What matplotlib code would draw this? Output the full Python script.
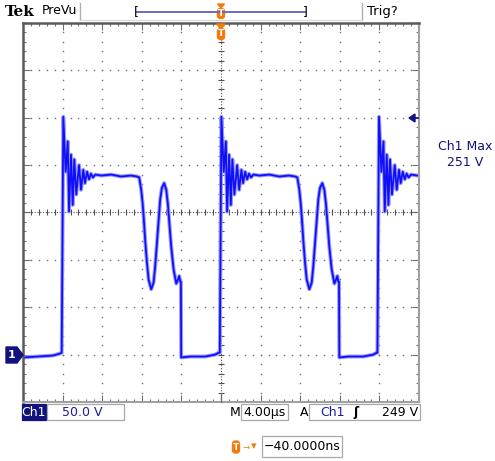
# 示波器截图复刻: Tek PreVu, Ch1 50V/div, 4us/div
import matplotlib
matplotlib.use('Agg')
import matplotlib.pyplot as plt
import numpy as np
from matplotlib.patches import Rectangle, Polygon, FancyBboxPatch
from matplotlib.ticker import MultipleLocator

# 一个周期的波形: 相对上升沿的时间(us) 和 电压(V)
cycle_t = [0.00, 0.16, 0.40, 0.61, 0.74, 0.94, 1.11, 1.27, 1.47, 1.75, 1.95,
           2.18, 2.35, 2.56, 2.76, 2.95, 3.15, 3.40, 4.00, 5.00, 6.00, 7.00,
           7.60, 7.83, 8.03, 8.17, 8.30, 8.43, 8.61, 8.78, 9.04, 9.28, 9.44,
           9.62, 9.79, 9.95, 10.12, 10.35, 10.56, 10.73, 10.90, 11.06, 11.30,
           11.57, 11.74, 11.87, 11.97, 12.04, 12.07, 13.00, 14.50, 15.50, 15.85]
cycle_v = [2, 251, 193, 225, 151, 211, 158, 206, 169, 200, 174,
           195, 181, 193, 185, 191, 187, 190, 189, 190, 188, 189,
           188, 187, 174, 160, 142, 121, 97, 79, 69, 76, 93,
           118, 142, 164, 176, 181, 174, 158, 135, 114, 90,
           75, 79, 83, 77, 77, -3, -2, -2, 0, 2]
edges = [-16.09, -0.12, 15.80]          # 上升沿时刻 (us)
lead_t = [-20.0, -18.5, -17.0, -16.3]   # 第一个上升沿之前的低电平
lead_v = [-3, -2, -1, 1]

t_all = list(lead_t)
v_all = list(lead_v)
for e in edges:
    t_all += [e + c for c in cycle_t]
    v_all += cycle_v
t_all = np.array(t_all)
v_all = np.array(v_all)

W, H = 495, 461
def fx(x):
    return x / W
def fy(y):
    return 1 - y / H

navy = '#12127e'
orange = '#f57a0c'

fig = plt.figure(figsize=(4.95, 4.61), dpi=100)
fig.patch.set_facecolor('white')
ax = fig.add_axes([fx(23), fy(402), 396 / W, 379 / H])
ax.set_xlim(-20, 20)
ax.set_ylim(-50, 350)

# 网格: 每格的点线
sub_x = np.arange(-20, 20.01, 0.8)
sub_y = np.arange(-50, 350.01, 10)
for yv in [0, 50, 100, 200, 250, 300]:
    ax.plot(sub_x, np.full(sub_x.size, yv), ls='none', marker='s', ms=1.0,
            mew=0, color='#707070')
for xv in [-16, -12, -8, -4, 4, 8, 12, 16]:
    ax.plot(np.full(sub_y.size, xv), sub_y, ls='none', marker='s', ms=1.0,
            mew=0, color='#707070')
# 中心十字线
ax.axhline(150, color='#505050', lw=0.8, ls=(0, (1, 1.5)))
ax.axvline(0, color='#505050', lw=0.8, ls=(0, (1, 1.5)))
ax.plot(sub_x, np.full(sub_x.size, 150), ls='none', marker='|', ms=4,
        mew=0.8, color='#505050')
ax.plot(np.zeros(sub_y.size), sub_y, ls='none', marker='_', ms=4,
        mew=0.8, color='#505050')

# 边框刻度
ax.xaxis.set_major_locator(MultipleLocator(4))
ax.xaxis.set_minor_locator(MultipleLocator(0.8))
ax.yaxis.set_major_locator(MultipleLocator(50))
ax.yaxis.set_minor_locator(MultipleLocator(10))
ax.tick_params(which='both', direction='in', top=True, right=True,
               labelbottom=False, labelleft=False, color='#707070')
ax.tick_params(which='major', length=5, width=0.8)
ax.tick_params(which='minor', length=2.5, width=0.8)
for s in ['top', 'left']:
    ax.spines[s].set_color('#5a5a5a')
    ax.spines[s].set_linewidth(1.8)
for s in ['bottom', 'right']:
    ax.spines[s].set_color('#a0a0a0')
    ax.spines[s].set_linewidth(1.5)

# 波形
ax.plot(t_all, v_all, color='#9a9aff', lw=2.8, solid_joinstyle='round',
        clip_on=True)
ax.plot(t_all, v_all, color='#1010f8', lw=1.3, solid_joinstyle='round',
        clip_on=True)

# 右侧最大值箭头
fig.add_artist(Polygon([(fx(409), fy(118)), (fx(415), fy(114)),
                        (fx(415), fy(122))], closed=True, color=navy,
                       transform=fig.transFigure))
fig.add_artist(plt.Line2D([fx(414), fx(418)], [fy(118), fy(118)], color=navy,
                          lw=1.2, transform=fig.transFigure))

# 地线标记 "1"
fig.add_artist(Polygon([(fx(6), fy(347)), (fx(17), fy(347)), (fx(23), fy(355)),
                        (fx(17), fy(363)), (fx(6), fy(363))], closed=True,
                       color=navy, transform=fig.transFigure))
fig.text(fx(12), fy(355.5), '1', color='white', fontsize=8, fontweight='bold',
         ha='center', va='center')

# 顶部状态栏
fig.text(fx(5), fy(12), 'Tek', fontsize=11, fontweight='bold',
         family='DejaVu Serif', ha='left', va='center')
fig.text(fx(42), fy(11), 'PreVu', fontsize=9, ha='left', va='center')
fig.add_artist(plt.Line2D([fx(80), fx(80)], [fy(3), fy(20)], color='#b0b0b0',
                          lw=1, transform=fig.transFigure))
fig.add_artist(plt.Line2D([fx(362), fx(362)], [fy(3), fy(20)], color='#b0b0b0',
                          lw=1, transform=fig.transFigure))
fig.add_artist(plt.Line2D([fx(80), fx(362)], [fy(20), fy(20)], color='#d8d8d8',
                          lw=0.8, transform=fig.transFigure))
fig.add_artist(plt.Line2D([fx(137), fx(305)], [fy(12), fy(12)], color='#6a6ac0',
                          lw=1.4, transform=fig.transFigure))
fig.text(fx(136), fy(12), '[', fontsize=9, ha='center', va='center')
fig.text(fx(305.5), fy(12), ']', fontsize=9, ha='center', va='center')
fig.text(fx(367), fy(12), 'Trig?', fontsize=9.5, ha='left', va='center')


def t_marker(xc, yc, h=10):
    fig.add_artist(FancyBboxPatch((fx(xc - 3.5), fy(yc + h / 2)),
                                  7 / W, h / H,
                                  boxstyle='round,pad=0,rounding_size=0.006',
                                  color=orange, transform=fig.transFigure))
    fig.text(fx(xc), fy(yc), 'T', color='white', fontsize=6.5,
             fontweight='bold', ha='center', va='center')


# 顶部触发位置 T
fig.add_artist(Polygon([(fx(217.5), fy(4)), (fx(224.5), fy(4)), (fx(221), fy(8))],
                       closed=True, color=orange, transform=fig.transFigure))
t_marker(221, 13.5, 10)
fig.add_artist(Polygon([(fx(216.5), fy(24)), (fx(225.5), fy(24)), (fx(221), fy(29))],
                       closed=True, color=orange, transform=fig.transFigure))
t_marker(221, 34, 11)

# 底部中心触发位置刻度
fig.add_artist(plt.Line2D([fx(221), fx(221)], [fy(393), fy(402)], color='#707070',
                          lw=0.9, transform=fig.transFigure))

# 右侧读数
fig.text(fx(465), fy(147), 'Ch1 Max', color=navy, fontsize=9, ha='center',
         va='center')
fig.text(fx(465), fy(163), '251 V', color=navy, fontsize=9, ha='center',
         va='center')


def box(x0, y0, x1, y1, fc='none', ec='#a8a8a8'):
    fig.add_artist(Rectangle((fx(x0), fy(y1)), (x1 - x0) / W, (y1 - y0) / H,
                             facecolor=fc, edgecolor=ec, lw=0.9,
                             transform=fig.transFigure))


# 底部状态行
box(22, 404, 46, 420, fc=navy, ec=navy)
fig.text(fx(34), fy(412), 'Ch1', color='white', fontsize=9, ha='center',
         va='center')
box(47, 404, 124, 420)
fig.text(fx(62), fy(412), '50.0 V', color='#1c1c9c', fontsize=9, ha='left',
         va='center')
fig.text(fx(235), fy(412), 'M', fontsize=9, ha='center', va='center')
box(241, 404, 288, 420)
fig.text(fx(264.5), fy(412), '4.00µs', fontsize=9, ha='center', va='center')
fig.text(fx(304), fy(412), 'A', fontsize=9, ha='center', va='center')
box(309, 404, 420, 420)
fig.text(fx(320), fy(412), 'Ch1', color='#1c1c9c', fontsize=9, ha='left',
         va='center')
fig.text(fx(356), fy(412), 'ʃ', fontsize=9, fontweight='bold', ha='center',
         va='center')
fig.text(fx(418), fy(412), '249 V', fontsize=9, ha='right', va='center')

# 触发延迟
t_marker(236, 447, 12)
fig.text(fx(246), fy(447), '→', color=orange, fontsize=6, ha='center',
         va='center')
fig.text(fx(254), fy(446), '▾', color=orange, fontsize=8, ha='center',
         va='center')
box(262, 436, 342, 457)
fig.text(fx(302), fy(446.5), '−40.0000ns', fontsize=9, ha='center',
         va='center')

fig.savefig('out.png', dpi=100)
